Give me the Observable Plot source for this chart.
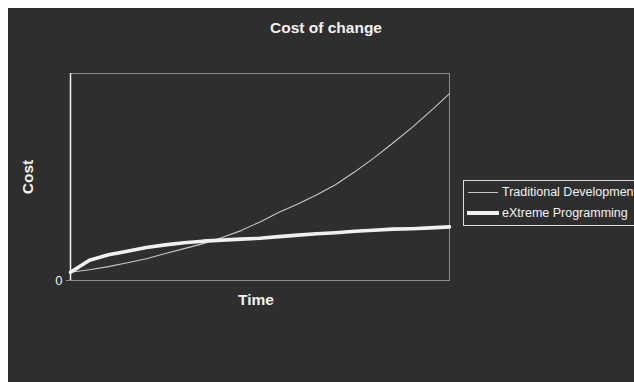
<!DOCTYPE html>
<html>
<head>
<meta charset="utf-8">
<script src="https://cdn.jsdelivr.net/npm/d3@7"></script>
<script src="https://cdn.jsdelivr.net/npm/@observablehq/plot@0.6"></script>
<style>
  html, body { margin: 0; padding: 0; background: #ffffff; }
  #wrap { position: absolute; left: 8px; top: 8px; width: 626px; height: 374px; background: #2e2e2e; overflow: hidden; font-family: "Liberation Sans", Arial, sans-serif; }
  #chart { position: absolute; left: 0; top: 0; }
  #legend { position: absolute; left: 455px; top: 172px; width: 300px; height: 44px; border: 1px solid #dcdcdc; }
  .sw { position: absolute; }
  .lt { position: absolute; font-size: 12.5px; line-height: 14px; color: #f2f2f2; white-space: nowrap; }
</style>
</head>
<body>
<div id="wrap">
  <div id="chart"></div>
  <div id="legend"></div>
</div>
<script>
const title = "Cost of change";
const yLabel = "Cost";
const xLabel = "Time";
const seriesNames = ["Traditional Development", "eXtreme Programming"];
const time = [0, 1, 2, 3, 4, 5, 6, 7, 8, 9, 10, 11, 12, 13, 14, 15, 16, 17, 18, 19, 20];
const traditional = [4.0, 5.2, 6.7, 8.6, 10.5, 13.0, 15.4, 17.8, 20.8, 24.1, 28.3, 33.0, 36.9, 41.4, 46.4, 52.5, 59.1, 66.3, 73.7, 81.8, 90.3];
const extreme = [4.0, 9.8, 12.4, 14.1, 15.9, 17.2, 18.2, 19.0, 19.5, 20.0, 20.4, 21.2, 21.9, 22.6, 23.1, 23.8, 24.3, 24.8, 25.0, 25.4, 25.9];
const yTicks = [0];

const tradData = time.map((t, i) => ({t, v: traditional[i]}));
const xpData = time.map((t, i) => ({t, v: extreme[i]}));

const chart = Plot.plot({
  width: 626,
  height: 374,
  marginLeft: 62,
  marginRight: 185,
  marginTop: 65,
  marginBottom: 102,
  style: { background: "transparent", color: "#f2f2f2", fontFamily: "Liberation Sans, Arial, sans-serif" },
  x: { domain: [0, 20], axis: null },
  y: { domain: [0, 100], axis: null },
  marks: [
    Plot.frame({ stroke: "#8c8c8c", strokeWidth: 1 }),
    Plot.ruleX([0], { stroke: "#f5f5f5", strokeWidth: 1.5 }),
    Plot.axisY({ ticks: yTicks, tickFormat: d => String(d), tickSize: 4, tickPadding: 4, fontSize: 13, stroke: "#8c8c8c", label: null }),
    Plot.line(tradData, { x: "t", y: "v", stroke: "#c8c8c8", strokeWidth: 1.1 }),
    Plot.line(xpData, { x: "t", y: "v", stroke: "#f0f0f0", strokeWidth: 3.6 }),
    Plot.text([title], { frameAnchor: "top", lineAnchor: "middle", dx: 66, dy: -45, fontSize: 15.5, fontWeight: "bold", fill: "#f2f2f2" }),
    Plot.text([yLabel], { frameAnchor: "left", textAnchor: "middle", lineAnchor: "middle", dx: -42, rotate: -90, fontSize: 15.5, fontWeight: "bold", fill: "#f2f2f2" }),
    Plot.text([xLabel], { frameAnchor: "bottom", lineAnchor: "middle", dx: -4, dy: 20, fontSize: 15.5, fontWeight: "bold", fill: "#f2f2f2" })
  ]
});
document.getElementById("chart").appendChild(chart);

const legend = document.getElementById("legend");
const rows = [
  { name: seriesNames[0], cy: 11, h: 1, color: "#c8c8c8", left: 4, w: 30 },
  { name: seriesNames[1], cy: 32, h: 4, color: "#f0f0f0", left: 3, w: 32 }
];
rows.forEach(r => {
  const sw = document.createElement("div");
  sw.className = "sw";
  sw.style.left = r.left + "px";
  sw.style.top = (r.cy - r.h / 2) + "px";
  sw.style.width = r.w + "px";
  sw.style.height = r.h + "px";
  sw.style.background = r.color;
  legend.appendChild(sw);
  const t = document.createElement("div");
  t.className = "lt";
  t.style.left = "38px";
  t.style.top = (r.cy - 7) + "px";
  t.textContent = r.name;
  legend.appendChild(t);
});
</script>
</body>
</html>
